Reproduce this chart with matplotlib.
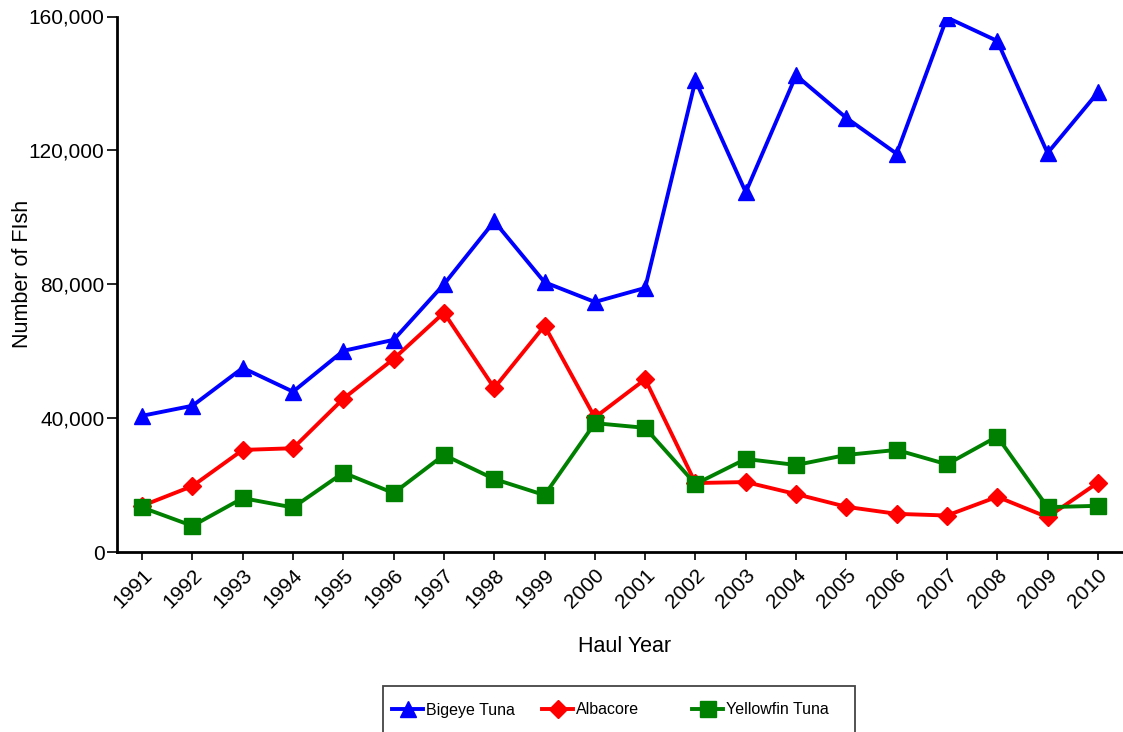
import matplotlib
matplotlib.use("Agg")
import matplotlib.pyplot as plt
import matplotlib.ticker as mticker
from matplotlib.patches import Rectangle

plt.rcParams['font.family'] = ['Liberation Sans', 'DejaVu Sans']

years = list(range(1991, 2011))
bigeye = [40700, 43700, 55000, 47900, 60100, 63400, 80000, 98800, 80600, 74700,
          78900, 140900, 107500, 142400, 129700, 119000, 159700, 152700, 119200, 137300]
albacore = [13800, 19700, 30500, 31000, 45800, 57700, 71500, 49000, 67600, 40200,
            51600, 20600, 20900, 17300, 13500, 11400, 10900, 16500, 10400, 20700]
yellowfin = [13300, 7800, 16100, 13300, 23700, 17600, 29000, 21800, 17000, 38500,
             37100, 20300, 27800, 26000, 29000, 30500, 26200, 34500, 13400, 13800]
series_names = ["Bigeye Tuna", "Albacore", "Yellowfin Tuna"]
y_ticks = [0, 40000, 80000, 120000, 160000]

W, H = 1123, 732
fig = plt.figure(figsize=(W / 100, H / 100), dpi=100)
ax = fig.add_axes([117 / W, (H - 552) / H, (W - 117) / W, (552 - 16.5) / H])

lw = 2.8
l1, = ax.plot(years, bigeye, color='#0000FF', lw=lw, marker='^', ms=12, zorder=3)
l2, = ax.plot(years, albacore, color='#FF0000', lw=lw, marker='D', ms=9, zorder=4)
l3, = ax.plot(years, yellowfin, color='#008000', lw=lw, marker='s', ms=11.5, zorder=5)

ax.set_xlim(1990.5, 2010.5)
ax.set_ylim(0, 160000)
ax.set_xticks(years)
ax.set_xticklabels([str(y) for y in years], rotation=45, ha='right', va='top',
                   rotation_mode='anchor')
ax.set_yticks(y_ticks)
ax.yaxis.set_major_formatter(mticker.FuncFormatter(lambda v, p: f"{int(v):,}"))

for s in ['top', 'right']:
    ax.spines[s].set_visible(False)
for s in ['left', 'bottom']:
    ax.spines[s].set_linewidth(2)
    ax.spines[s].set_color('black')
ax.spines['left'].set_zorder(6)
ax.spines['bottom'].set_zorder(6)

ax.tick_params(axis='x', length=5.5, width=1.2, pad=4, labelsize=15)
ax.tick_params(axis='y', length=7.5, width=1.2, pad=1.5, labelsize=15)

ax.set_xlabel("Haul Year", fontsize=15.5)
ax.set_ylabel("Number of FIsh", fontsize=15.5)
ax.xaxis.set_label_coords((625 - 117) / (W - 117), -(647 - 552) / (552 - 16.5),
                          transform=ax.transAxes)
ax.yaxis.set_label_coords(-(117 - 23) / (W - 117), (552 - 273.5) / (552 - 16.5),
                          transform=ax.transAxes)
ax.xaxis.label.set_va('center')
ax.yaxis.label.set_va('center')

# legend frame
fig.patches.append(Rectangle((383 / W, -0.05), (855 - 383) / W, (H - 686) / H + 0.05,
                             transform=fig.transFigure, fill=False,
                             edgecolor='#444444', lw=1.3))
for handle, name, xpx in zip([l1, l2, l3], series_names, [392, 542, 692]):
    fig.legend(handles=[handle], labels=[name], loc='center left',
               bbox_to_anchor=(xpx / W, 1 - 710 / H), frameon=False,
               borderpad=0, borderaxespad=0, handlelength=1.95,
               handletextpad=0.2, fontsize=11.5)

fig.savefig("out.png", dpi=100)
